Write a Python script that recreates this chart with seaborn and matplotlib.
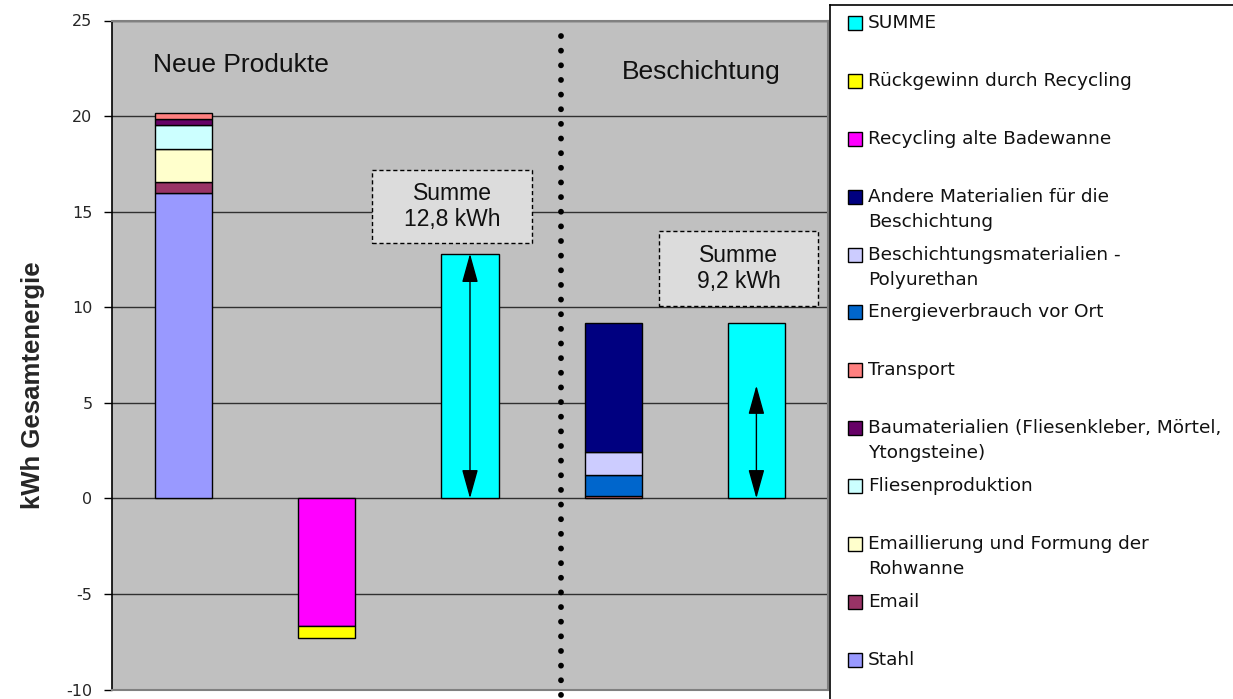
import numpy as np
import pandas as pd
import matplotlib
matplotlib.use("Agg")
import matplotlib.pyplot as plt
from matplotlib.patches import Rectangle
import seaborn as sns

# ---- data -------------------------------------------------------------
categories = ["Neue Produkte", "Recycling", "Summe neu", "Beschichtung", "Summe Beschichtung"]

# energy contributions per category (kWh), listed bottom-up in stacking order
stahl        = [16.0, 0.0, 0.0, 0.0, 0.0]
email        = [0.55, 0.0, 0.0, 0.0, 0.0]
emaillierung = [1.75, 0.0, 0.0, 0.0, 0.0]
fliesen      = [1.25, 0.0, 0.0, 0.0, 0.0]
baumat       = [0.30, 0.0, 0.0, 0.0, 0.0]
transport    = [0.30, 0.0, 0.0, 0.10, 0.0]
energie      = [0.0, 0.0, 0.0, 1.10, 0.0]
polyurethan  = [0.0, 0.0, 0.0, 1.20, 0.0]
andere       = [0.0, 0.0, 0.0, 6.80, 0.0]
recycling    = [0.0, -6.70, 0.0, 0.0, 0.0]
rueckgewinn  = [0.0, -0.60, 0.0, 0.0, 0.0]
summe        = [0.0, 0.0, 12.8, 0.0, 9.2]

series_names = [
    "Stahl", "Email", "Emaillierung und Formung der\nRohwanne", "Fliesenproduktion",
    "Baumaterialien (Fliesenkleber, Mörtel,\nYtongsteine)", "Transport",
    "Energieverbrauch vor Ort", "Beschichtungsmaterialien -\nPolyurethan",
    "Andere Materialien für die\nBeschichtung", "Recycling alte Badewanne",
    "Rückgewinn durch Recycling", "SUMME",
]
series_values = [stahl, email, emaillierung, fliesen, baumat, transport,
                 energie, polyurethan, andere, recycling, rueckgewinn, summe]
series_colors = ["#9999FF", "#993366", "#FFFFCC", "#CCFFFF", "#660066", "#FF8080",
                 "#0066CC", "#CCCCFF", "#000080", "#FF00FF", "#FFFF00", "#00FFFF"]

group_labels = ["Neue Produkte", "Beschichtung"]
sum_labels = ["Summe\n12,8 kWh", "Summe\n9,2 kWh"]
sum_arrow_tops = [12.8, 5.9]

# ---- long table with stacking offsets ----------------------------------
rows = []
pos_base = np.zeros(len(categories))
neg_base = np.zeros(len(categories))
for name, vals in zip(series_names, series_values):
    for i, v in enumerate(vals):
        if v == 0:
            continue
        if v > 0:
            rows.append((categories[i], name, v, pos_base[i]))
            pos_base[i] += v
        else:
            rows.append((categories[i], name, v, neg_base[i]))
            neg_base[i] += v
df = pd.DataFrame(rows, columns=["kategorie", "komponente", "wert", "basis"])
df["kategorie"] = pd.Categorical(df["kategorie"], categories=categories, ordered=True)

# ---- figure -------------------------------------------------------------
sns.set_style("white")
plt.rcParams["font.family"] = ["DejaVu Sans"]
plt.rcParams["axes.unicode_minus"] = False

W, H = 1233, 699
fig = plt.figure(figsize=(W / 100, H / 100), dpi=100, facecolor="white")
ax = fig.add_axes([112 / W, 1 - 689.5 / H, (828 - 112) / W, (689.5 - 20.5) / H])
ax.set_facecolor("#C0C0C0")

for name, color in zip(series_names, series_colors):
    sub = df[df["komponente"] == name].sort_values("kategorie")
    if sub.empty:
        continue
    sns.barplot(data=sub, x="kategorie", y="wert", order=categories,
                bottom=sub["basis"].to_numpy(), color=color, saturation=1,
                width=0.4, edgecolor="black", linewidth=1.0, errorbar=None,
                ax=ax, zorder=3)

ax.set_xlim(-0.5, len(categories) - 0.5)
ax.set_ylim(-10, 25)
ax.set_yticks(np.arange(-10, 26, 5))
ax.set_xticks([])
ax.set_xlabel("")
ax.set_ylabel("")
ax.tick_params(axis="y", direction="out", length=6, width=1, color="black",
               labelsize=11.5, pad=8, left=True)
ax.yaxis.grid(True, color="#303030", linewidth=1.0)
ax.set_axisbelow(True)
for s in ["top", "right", "bottom"]:
    ax.spines[s].set_color("#808080")
    ax.spines[s].set_linewidth(1.5)
ax.spines["left"].set_color("black")
ax.spines["left"].set_linewidth(1.2)

# separator between the two scenarios
ax.plot([2.635, 2.635], [24.2, -10.6], color="black", linewidth=4.2,
        linestyle=(0, (0.01, 2.5)), dash_capstyle="round", clip_on=False, zorder=5)

# scenario titles
ax.text(-0.214, 22.67, group_labels[0], fontsize=19, family="Liberation Sans",
        ha="left", va="center", color="#111111")
ax.text(3.06, 22.3, group_labels[1], fontsize=19, family="Liberation Sans",
        ha="left", va="center", color="#111111")

# total boxes and arrows
box_specs = [((1.316, 13.35), 1.117, 3.82), ((3.32, 10.05), 1.11, 3.93)]
for (xy, bw, bh), lab in zip(box_specs, sum_labels):
    ax.add_patch(Rectangle(xy, bw, bh, facecolor="#DCDCDC", edgecolor="black",
                           linewidth=1.0, linestyle=(0, (3, 2)), zorder=4))
    ax.text(xy[0] + bw / 2, xy[1] + bh / 2, lab, ha="center", va="center",
            fontsize=16.5, family="Liberation Sans", linespacing=1.15,
            color="#111111", zorder=5)

for xi, top in zip([2, 4], sum_arrow_tops):
    ax.annotate("", xy=(xi, top), xytext=(xi, 0),
                arrowprops=dict(arrowstyle="<|-|>,head_length=0.9,head_width=0.25",
                                color="black", lw=1.0, shrinkA=0, shrinkB=0,
                                mutation_scale=20), zorder=6)

fig.text(33 / W, 1 - 385 / H, "kWh Gesamtenergie", rotation=90, ha="center",
         va="center", fontsize=18.5, fontweight="bold",
         family=["Liberation Sans Narrow", "Liberation Sans"])

# ---- legend panel (pixel coordinates) -----------------------------------
lax = fig.add_axes([830 / W, (H - 710) / H, 410 / W, 705 / H])
lax.set_xlim(830, 1240)
lax.set_ylim(710, 5)
lax.set_xticks([])
lax.set_yticks([])
lax.set_facecolor("white")
for s in lax.spines.values():
    s.set_color("black")
    s.set_linewidth(1.2)

legend_order = list(range(len(series_names)))[::-1]
for k, idx in enumerate(legend_order):
    y0 = 23 + k * 57.9
    lax.add_patch(Rectangle((848, y0 - 7), 14, 14, facecolor=series_colors[idx],
                            edgecolor="black", linewidth=1.0))
    for j, line in enumerate(series_names[idx].split("\n")):
        lax.text(868, y0 + j * 25, line, fontsize=13.3, ha="left", va="center",
                 color="#111111")

fig.savefig("out.png", dpi=100, facecolor="white")
